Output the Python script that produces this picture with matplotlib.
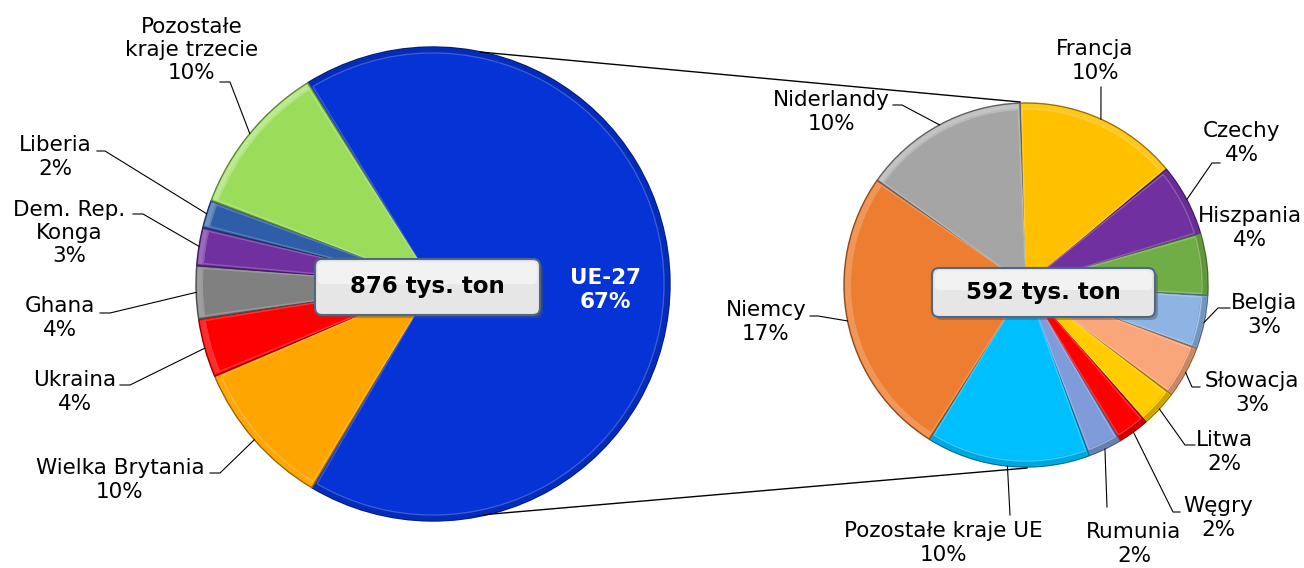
import matplotlib.pyplot as plt
import numpy as np
from matplotlib.patches import Wedge, FancyBboxPatch
from matplotlib.colors import to_rgb

# import kraje (udzial w imporcie ogolem, %)
world_labels = ["UE-27", "Wielka Brytania", "Ukraina", "Ghana", "Dem. Rep.\nKonga",
                "Liberia", "Pozostałe\nkraje trzecie"]
world_values = [67.4, 10.1, 4.0, 3.6, 2.6, 1.9, 10.4]
world_colors = ["#0533D6", "#FFA500", "#FF0000", "#808080", "#7030A0", "#2E5EA8", "#9BDD5A"]

eu_labels = ["Francja", "Czechy", "Hiszpania", "Belgia", "Słowacja", "Litwa", "Węgry",
             "Rumunia", "Pozostałe kraje UE", "Niemcy", "Niderlandy"]
eu_values = [9.8, 4.3, 3.7, 3.2, 3.1, 2.2, 1.9, 2.0, 9.8, 17.4, 9.9]
eu_colors = ["#FFC000", "#7030A0", "#70AD47", "#8DB4E2", "#F9A77A", "#FFCC00", "#FF0000",
             "#7F9BD9", "#00BFFF", "#ED7D31", "#A5A5A5"]

totals = ["876 tys. ton", "592 tys. ton"]

H = 568


def P(x, y):
    # pixel coords (y down) -> data coords (y up)
    return x, H - y


def blend(c, other, t):
    c = np.array(to_rgb(c))
    return tuple(np.clip(c * (1 - t) + np.array(other) * t, 0, 1))


fig = plt.figure(figsize=(13.04, 5.68), dpi=100)
ax = fig.add_axes([0, 0, 1, 1])


def draw_pie(values, colors, center, radius, start):
    wedges, _ = ax.pie(values, colors=colors, startangle=start, counterclock=False,
                       center=center, radius=radius,
                       wedgeprops=dict(linewidth=1.0))
    for w, col in zip(wedges, colors):
        w.set_edgecolor(blend(col, (0, 0, 0), 0.4))
        mid = (w.theta1 + w.theta2) / 2
        f = np.cos(np.radians(mid - 135))
        band = blend(col, (1, 1, 1), 0.35 * f) if f > 0 else blend(col, (0, 0, 0), 0.2 * -f)
        ax.add_patch(Wedge(center, radius - 1, w.theta1 + 0.4, w.theta2 - 0.4, width=6,
                           facecolor=band, edgecolor="none", zorder=2))
        ax.add_patch(Wedge(center, radius - 6, w.theta1 + 0.6, w.theta2 - 0.6, width=radius - 10,
                           facecolor="none", edgecolor=blend(col, (1, 1, 1), 0.2),
                           linewidth=1.0, zorder=2))
    return wedges


def rim(w, center, radius):
    mid = np.radians((w.theta1 + w.theta2) / 2)
    return center[0] + radius * np.cos(mid), center[1] + radius * np.sin(mid)


lc = P(433, 284)
lr = 237
rc = P(1026, 285)
rr = 182

lw_ = draw_pie(world_values, world_colors, lc, lr, 121.9)
rw_ = draw_pie(eu_values, eu_colors, rc, rr, 91.9)

# linie laczace
for a, b in [((480, 52), (1020, 102)), ((457, 517), (1027, 468))]:
    ax.plot([P(*a)[0], P(*b)[0]], [P(*a)[1], P(*b)[1]], color="black", lw=1.0, zorder=1)

fs = 15.5

# etykiety lewego wykresu: (pozycja tekstu, punkty linii)
left_layout = [
    None,
    ((120, 480), [(210, 473), (220, 473)]),
    ((75, 392), [(120, 385), (130, 385)]),
    ((60, 318), [(100, 313), (110, 313)]),
    ((69, 233), [(133, 214), (143, 214)]),
    ((55, 157), [(97, 151), (105, 151)]),
    ((192, 50), [(220, 82), (230, 82)]),
]

for w, lab, val, lay in zip(lw_, world_labels, world_values, left_layout):
    txt = f"{lab}\n{val:.0f}%"
    if lay is None:
        ax.text(*P(605, 290), txt, ha="center", va="center", color="white",
                fontsize=15.5, fontweight="bold", zorder=5)
        continue
    (tx, ty), pts = lay
    ax.text(*P(tx, ty), txt, ha="center", va="center", fontsize=fs, linespacing=1.2, zorder=5)
    xs = [P(*p)[0] for p in pts] + [rim(w, lc, lr)[0]]
    ys = [P(*p)[1] for p in pts] + [rim(w, lc, lr)[1]]
    ax.plot(xs, ys, color="black", lw=0.8, zorder=1)

right_layout = [
    ((1095, 61), [(1101, 87)]),
    ((1242, 143), [(1220, 163), (1212, 163)]),
    ((1250, 228), []),
    ((1264, 315), [(1230, 308), (1218, 308)]),
    ((1252, 393), [(1200, 387), (1192, 387)]),
    ((1224, 452), [(1195, 445), (1185, 445)]),
    ((1218, 518), [(1180, 512), (1173, 512)]),
    ((1134, 544), [(1107, 507)]),
    ((943, 543), [(1010, 515)]),
    ((766, 322), [(810, 316), (818, 316)]),
    ((831, 112), [(893, 105), (902, 105)]),
]

for w, lab, val, lay in zip(rw_, eu_labels, eu_values, right_layout):
    (tx, ty), pts = lay
    ax.text(*P(tx, ty), f"{lab}\n{val:.0f}%", ha="center", va="center", fontsize=fs,
            linespacing=1.2, zorder=5)
    if pts:
        end = rim(w, rc, rr)
        xs = [P(*p)[0] for p in pts] + [end[0]]
        ys = [P(*p)[1] for p in pts] + [end[1]]
        ax.plot(xs, ys, color="black", lw=0.8, zorder=1)

# ramki z suma
for (x0, y0, x1, y1), t in zip([(315, 259, 540, 315), (932, 268, 1155, 317)], totals):
    bx, by = P(x0, y1)
    ax.add_patch(FancyBboxPatch((bx + 3, by - 3), x1 - x0, y1 - y0,
                                boxstyle="round,pad=0,rounding_size=7",
                                fc="#555555", ec="none", alpha=0.45, zorder=6))
    ax.add_patch(FancyBboxPatch((bx, by), x1 - x0, y1 - y0,
                                boxstyle="round,pad=0,rounding_size=7",
                                fc="#E6E6E6", ec="#4F6685", lw=1.5, zorder=7))
    ax.add_patch(FancyBboxPatch((bx + 3, by + (y1 - y0) * 0.55), x1 - x0 - 6, (y1 - y0) * 0.4,
                                boxstyle="round,pad=0,rounding_size=5",
                                fc="white", ec="none", alpha=0.5, zorder=7))
    ax.text((x0 + x1) / 2, H - (y0 + y1) / 2, t, ha="center", va="center",
            fontsize=16.5, fontweight="bold", zorder=8)

ax.set_xlim(0, 1304)
ax.set_ylim(0, H)
ax.set_aspect("equal")
ax.axis("off")

fig.savefig("out.png", dpi=100, facecolor="white")
